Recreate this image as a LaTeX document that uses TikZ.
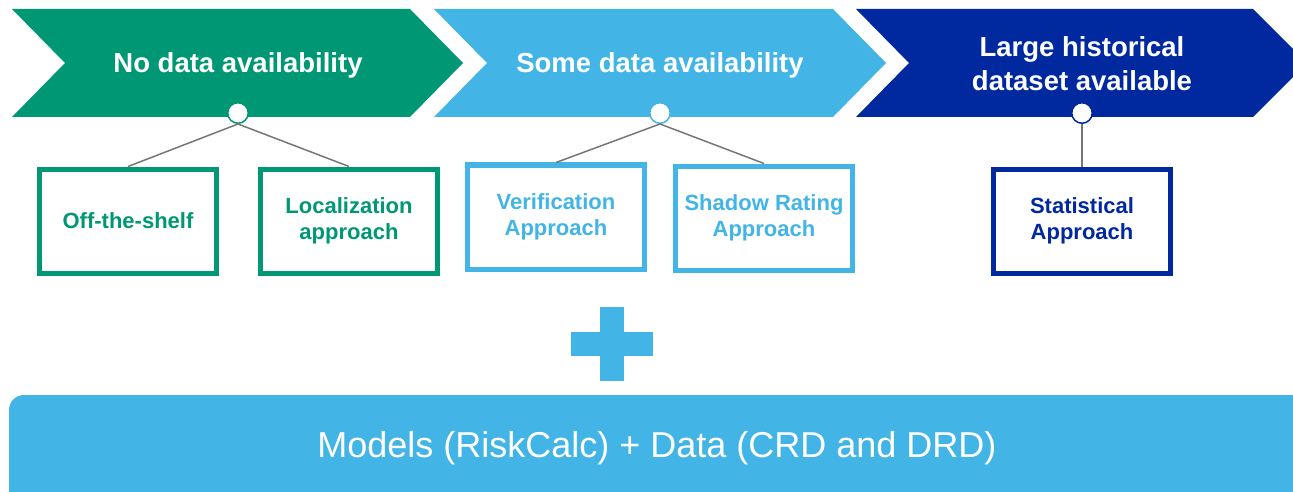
\documentclass[tikz,border=0pt]{standalone}
\usepackage{fontspec}
\setmainfont{Liberation Sans}
\definecolor{nodata}{RGB}{0,152,116}
\definecolor{somedata}{RGB}{66,181,230}
\definecolor{largedata}{RGB}{0,41,160}
\definecolor{linkgray}{RGB}{118,118,118}
\tikzset{
  stagetext/.style={text=white, font=\fontsize{27.5}{34}\selectfont\bfseries, align=center},
  approachbox/.style={draw=#1, text=#1, line width=5pt, fill=white, minimum width=177pt,
    minimum height=104pt, align=center, font=\fontsize{22}{25.5}\selectfont\bfseries},
  knot/.style={circle, draw=#1, line width=1.5pt, fill=white, minimum size=20.5pt, inner sep=0pt},
  link/.style={linkgray, line width=1.5pt}
}
\begin{document}
\begin{tikzpicture}[x=1pt, y=-1pt]
      \useasboundingbox (0,0) rectangle (1293,492);
      % stages
      \fill[nodata] (12,9) -- (410,9) -- (463,63) -- (410,117) -- (12,117) -- (65,63) -- cycle;
      \fill[somedata] (434,9) -- (833,9) -- (886,63) -- (833,117) -- (434,117) -- (487,63) -- cycle;
      \fill[largedata] (856,9) -- (1253,9) -- (1307,63) -- (1253,117) -- (856,117) -- (909,63) -- cycle;
      \node[stagetext, anchor=base] (s1) at (238,73) {No data availability};
      \node[stagetext, anchor=base] (s2) at (660,73) {Some data availability};
      \node[stagetext] (s3) at (1082,64) {Large historical\\dataset available};
      % approaches
      \draw
        (128,221) node[approachbox=nodata] (a1) {Off-the-shelf}
        (349,221) node[approachbox=nodata] (a2) {Localization\\approach}
        (556,217) node[approachbox=somedata] (a3) {Verification\\Approach}
        (764,218) node[approachbox=somedata] (a4) {Shadow Rating\\Approach}
        (1082,221) node[approachbox=largedata] (a5) {Statistical\\Approach};
      \node[knot=nodata] (k1) at (238,113) {};
      \node[knot=somedata] (k2) at (660,113) {};
      \node[knot=largedata] (k3) at (1082,113) {};
      \begin{scope}[link]
        \draw (k1.south) to (a1.north);
        \draw (k1.south) to (a2.north);
        \draw (k2.south) to (a3.north);
        \draw (k2.south) to (a4.north);
        \draw (k3.south) to (a5.north);
      \end{scope}
      % plus
      \fill[somedata] (600,307) rectangle (624,381);
      \fill[somedata] (571,332) rectangle (653,356);
      % base
      \fill[somedata, rounded corners=15pt] (9,395) rectangle (1320,520);
      \node[text=white, font=\fontsize{36}{40}\selectfont, anchor=base] (base) at (657,457)
        {Models (RiskCalc) + Data (CRD and DRD)};
    \end{tikzpicture}
\end{document}
